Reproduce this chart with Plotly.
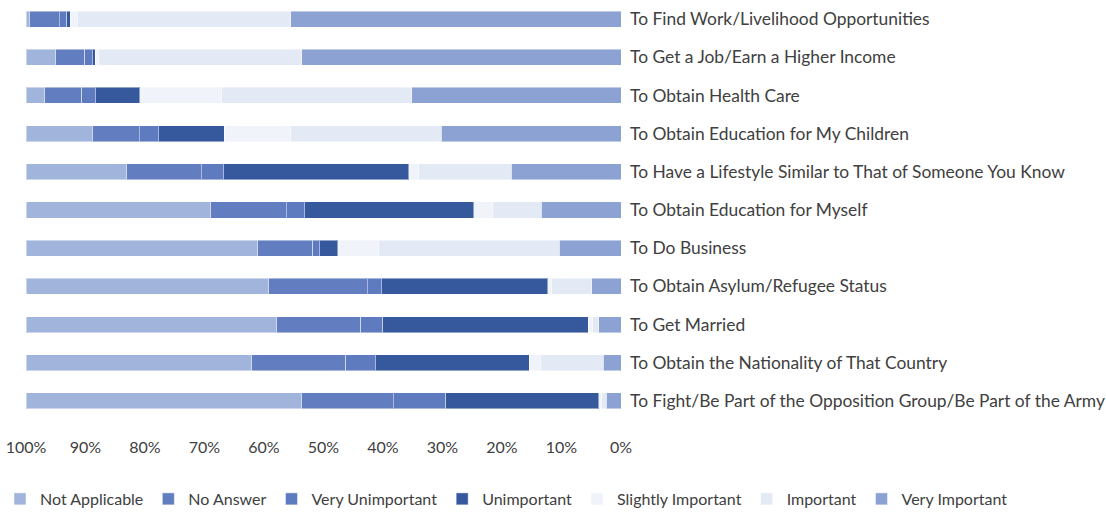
import plotly.graph_objects as go

# Reasons for migration, listed top to bottom
reasons = [
    "To Find Work/Livelihood Opportunities",
    "To Get a Job/Earn a Higher Income",
    "To Obtain Health Care",
    "To Obtain Education for My Children",
    "To Have a Lifestyle Similar to That of Someone You Know",
    "To Obtain Education for Myself",
    "To Do Business",
    "To Obtain Asylum/Refugee Status",
    "To Get Married",
    "To Obtain the Nationality of That Country",
    "To Fight/Be Part of the Opposition Group/Be Part of the Army",
]

# Share of responses (%) per reason
not_applicable     = [0.6, 4.9, 3.1, 11.2, 16.8, 30.9, 38.9, 40.7, 42.0, 37.8, 46.3]
no_answer          = [5.1, 4.9, 6.2, 7.9, 12.7, 12.9, 9.2, 16.7, 14.1, 15.8, 15.5]
very_unimportant   = [1.1, 1.4, 2.4, 3.2, 3.7, 3.0, 1.3, 2.4, 3.7, 5.1, 8.7]
unimportant        = [0.6, 0.4, 7.4, 11.0, 31.0, 28.4, 3.0, 27.9, 34.6, 25.8, 25.8]
slightly_important = [1.3, 0.6, 13.7, 11.2, 1.7, 3.2, 6.9, 0.6, 0.7, 1.8, 0.5]
important          = [35.8, 34.1, 32.0, 25.3, 15.5, 8.1, 30.3, 6.8, 1.1, 10.6, 0.7]
very_important     = [55.5, 53.6, 35.2, 30.2, 18.4, 13.4, 10.4, 4.9, 3.7, 3.0, 2.5]

x_tick_values = [100, 90, 80, 70, 60, 50, 40, 30, 20, 10, 0]
x_tick_labels = ["100%", "90%", "80%", "70%", "60%", "50%", "40%", "30%", "20%", "10%", "0%"]

# Stacked from the 0% end outward
series = [
    ("Very Important", very_important, "#8BA2D3"),
    ("Important", important, "#E4EAF5"),
    ("Slightly Important", slightly_important, "#F0F3F9"),
    ("Unimportant", unimportant, "#36599E"),
    ("Very Unimportant", very_unimportant, "#5E7BBF"),
    ("No Answer", no_answer, "#637EC0"),
    ("Not Applicable", not_applicable, "#A1B5DC"),
]

fig = go.Figure()
for name, vals, color in series:
    fig.add_trace(go.Bar(
        y=reasons, x=vals, name=name, orientation="h",
        marker=dict(color=color, line=dict(color="rgba(255,255,255,0.45)", width=1)),
    ))

font_family = "Lato, 'Open Sans', sans-serif"

fig.update_layout(
    barmode="stack",
    barnorm="percent",
    bargap=0.58,
    width=1106, height=516,
    margin=dict(l=26, r=485, t=0, b=90),
    plot_bgcolor="white", paper_bgcolor="white",
    font=dict(family=font_family, color="#404040", size=16),
    xaxis=dict(
        range=[100, 0], tickmode="array",
        tickvals=x_tick_values, ticktext=x_tick_labels,
        showgrid=False, zeroline=False, showline=False,
        tickfont=dict(size=16, color="#404040"),
        ticklabelstandoff=16,
    ),
    yaxis=dict(
        side="right", categoryorder="array", categoryarray=reasons[::-1],
        showgrid=False, showline=False, ticks="",
        tickfont=dict(size=17.4, color="#404040"),
        ticklabelstandoff=8,
    ),
    legend=dict(
        orientation="h", traceorder="reversed",
        xref="paper", yref="paper",
        x=1.55, y=-0.188, xanchor="right", yanchor="middle",
        font=dict(size=16, color="#404040"),
        itemwidth=30,
    ),
)

fig.write_html("out.html")
